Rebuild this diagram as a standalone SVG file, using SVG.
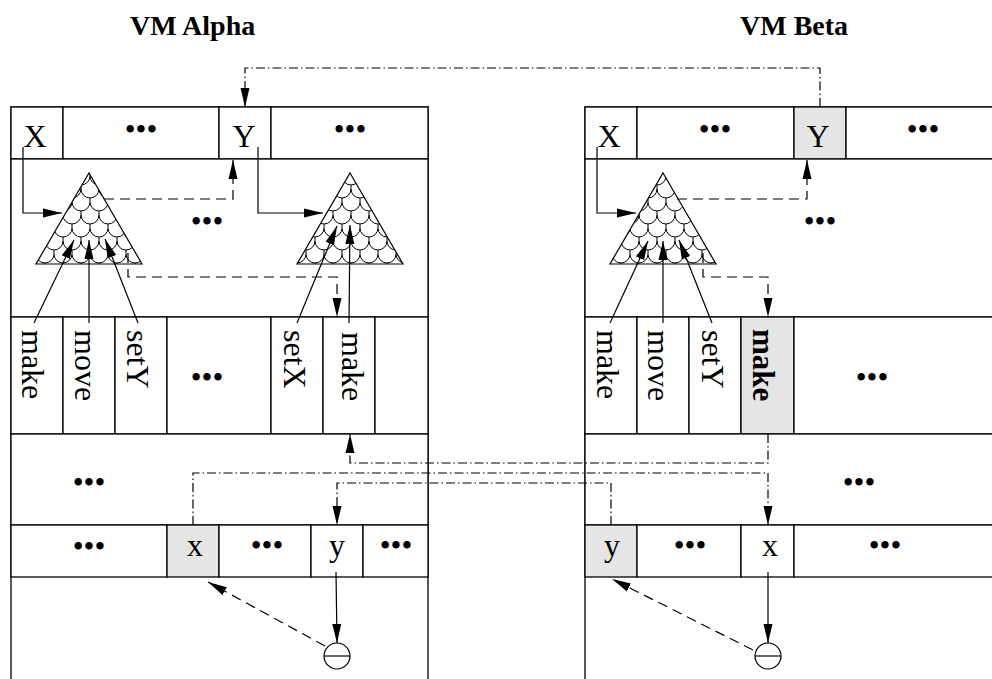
<svg xmlns="http://www.w3.org/2000/svg" width="992" height="679" viewBox="0 0 992 679">
<style>
.c{fill:#fff;stroke:#000;stroke-width:1.3}
.s{fill:#e5e5e5;stroke:#000;stroke-width:1.3}
.t{font-family:"Liberation Serif","Times New Roman",serif;font-size:32px;fill:#000}
.tb{font-family:"Liberation Serif","Times New Roman",serif;font-size:31px;font-weight:bold;fill:#000}
.d{font-family:"Liberation Serif","Times New Roman",serif;font-size:31px;fill:#000;text-anchor:middle}
.m{text-anchor:middle}
.title{font-family:"Liberation Serif","Times New Roman",serif;font-size:28px;font-weight:bold;fill:#000}
.ln{fill:none;stroke:#000;stroke-width:1.2}
.da{stroke-dasharray:10 6}
.dd{stroke-dasharray:9 3 1.5 3}
.tri{fill:url(#scales);stroke:#000;stroke-width:1.2}
</style>
<defs>
<marker id="ah" markerUnits="userSpaceOnUse" markerWidth="20" markerHeight="10" refX="19" refY="5" orient="auto" viewBox="0 0 20 10">
<path d="M0,0.5 L19,5 L0,9.5 z" fill="#000"/>
</marker>
<pattern id="scales" patternUnits="userSpaceOnUse" width="18" height="26" x="0" y="176">
<rect width="18" height="26" fill="#fff"/>
<path d="M0,0 A9,9 0 0 0 18,0 M9,9 V13 M-9,13 A9,9 0 0 0 9,13 M9,13 A9,9 0 0 0 27,13 M0,22 V26 M18,22 V26" fill="none" stroke="#000" stroke-width="1"/>
</pattern>
</defs>

<text class="title" x="130" y="35">VM Alpha</text>
<text class="title" x="740" y="35">VM Beta</text>

<!-- VM Alpha -->
<g id="alpha">
<g id="a-frame"><rect class="c" x="11" y="107" width="417" height="590"/></g>
<g id="a-X"><rect class="c" x="11" y="107" width="52" height="52"/><text class="t m" x="35" y="147">X</text></g>
<g id="a-r1d1"><rect class="c" x="63" y="107" width="156" height="52"/><text class="d" x="141" y="140">•••</text></g>
<g id="a-Y"><rect class="c" x="219" y="107" width="52" height="52"/><text class="t m" x="244" y="147">Y</text></g>
<g id="a-r1d2"><rect class="c" x="271" y="107" width="157" height="52"/><text class="d" x="350" y="140">•••</text></g>
<g id="a-r2"><rect class="c" x="11" y="159" width="417" height="158"/><text class="d" x="207" y="232">•••</text></g>
<g id="a-tri1"><path class="tri" d="M89,173 L142,264 L36,264 Z"/></g>
<g id="a-tri2"><path class="tri" d="M350,173 L403,264 L297,264 Z"/></g>
<g id="a-make"><rect class="c" x="11" y="317" width="52" height="117"/><text class="t" transform="translate(22,330) rotate(90)">make</text></g>
<g id="a-move"><rect class="c" x="63" y="317" width="52" height="117"/><text class="t" transform="translate(75,330) rotate(90)">move</text></g>
<g id="a-setY"><rect class="c" x="115" y="317" width="52" height="117"/><text class="t" transform="translate(127,330) rotate(90)">setY</text></g>
<g id="a-r3d"><rect class="c" x="167" y="317" width="104" height="117"/><text class="d" x="207" y="388">•••</text></g>
<g id="a-setX"><rect class="c" x="271" y="317" width="52" height="117"/><text class="t" transform="translate(284,330) rotate(90)">setX</text></g>
<g id="a-make2"><rect class="c" x="323" y="317" width="52" height="117"/><text class="t" transform="translate(342,332) rotate(90)">make</text></g>
<g id="a-r3e"><rect class="c" x="375" y="317" width="53" height="117"/></g>
<g id="a-r4"><rect class="c" x="11" y="434" width="417" height="91"/><text class="d" x="89" y="493">•••</text></g>
<g id="a-r5d1"><rect class="c" x="11" y="525" width="156" height="52"/><text class="d" x="89" y="557">•••</text></g>
<g id="a-x"><rect class="s" x="167" y="525" width="52" height="52"/><text class="t m" x="195" y="556">x</text></g>
<g id="a-r5d2"><rect class="c" x="219" y="525" width="92" height="52"/><text class="d" x="267" y="556">•••</text></g>
<g id="a-y"><rect class="c" x="311" y="525" width="52" height="52"/><text class="t m" x="337" y="556">y</text></g>
<g id="a-r5d3"><rect class="c" x="363" y="525" width="65" height="52"/><text class="d" x="396" y="556">•••</text></g>
<g id="a-circle"><circle cx="337" cy="656" r="13" fill="#fff" stroke="#000" stroke-width="1.2"/><path d="M324,656 H350" stroke="#000" stroke-width="1.2"/></g>
</g>

<!-- VM Beta -->
<g id="beta">
<g id="b-frame"><rect class="c" x="585" y="107" width="420" height="590"/></g>
<g id="b-X"><rect class="c" x="585" y="107" width="52" height="52"/><text class="t m" x="609" y="147">X</text></g>
<g id="b-r1d1"><rect class="c" x="637" y="107" width="157" height="52"/><text class="d" x="715" y="140">•••</text></g>
<g id="b-Y"><rect class="s" x="794" y="107" width="52" height="52"/><text class="t m" x="818" y="147">Y</text></g>
<g id="b-r1d2"><rect class="c" x="846" y="107" width="160" height="52"/><text class="d" x="923" y="140">•••</text></g>
<g id="b-r2"><rect class="c" x="585" y="159" width="420" height="158"/><text class="d" x="820" y="232">•••</text></g>
<g id="b-tri"><path class="tri" d="M663,173 L716,264 L610,264 Z"/></g>
<g id="b-make"><rect class="c" x="585" y="317" width="52" height="117"/><text class="t" transform="translate(597,330) rotate(90)">make</text></g>
<g id="b-move"><rect class="c" x="637" y="317" width="52" height="117"/><text class="t" transform="translate(648,330) rotate(90)">move</text></g>
<g id="b-setY"><rect class="c" x="689" y="317" width="52" height="117"/><text class="t" transform="translate(702,330) rotate(90)">setY</text></g>
<g id="b-make2"><rect class="s" x="741" y="317" width="53" height="117"/><text class="tb" transform="translate(753,329) rotate(90)">make</text></g>
<g id="b-r3d"><rect class="c" x="794" y="317" width="212" height="117"/><text class="d" x="872" y="388">•••</text></g>
<g id="b-r4"><rect class="c" x="585" y="434" width="420" height="91"/><text class="d" x="859" y="493">•••</text></g>
<g id="b-y"><rect class="s" x="585" y="525" width="52" height="52"/><text class="t m" x="612" y="556">y</text></g>
<g id="b-r5d1"><rect class="c" x="637" y="525" width="104" height="52"/><text class="d" x="690" y="556">•••</text></g>
<g id="b-x"><rect class="c" x="741" y="525" width="53" height="52"/><text class="t m" x="770" y="556">x</text></g>
<g id="b-r5d2"><rect class="c" x="794" y="525" width="212" height="52"/><text class="d" x="885" y="556">•••</text></g>
<g id="b-circle"><circle cx="768" cy="656" r="13" fill="#fff" stroke="#000" stroke-width="1.2"/><path d="M755,656 H781" stroke="#000" stroke-width="1.2"/></g>
</g>

<g id="connectors">
<path class="ln dd" d="M820,107 V68 H245 V107" marker-end="url(#ah)"/>
<path class="ln" d="M23,147 V213 H62" marker-end="url(#ah)"/>
<path class="ln" d="M258,147 V213 H323" marker-end="url(#ah)"/>
<path class="ln da" d="M104,199 H233 V160" marker-end="url(#ah)"/>
<path class="ln da" d="M128,253 V277 H337 V317" marker-end="url(#ah)"/>
<path class="ln" d="M34,323 L74,240" marker-end="url(#ah)"/>
<path class="ln" d="M89,323 V240" marker-end="url(#ah)"/>
<path class="ln" d="M138,323 L105,239" marker-end="url(#ah)"/>
<path class="ln" d="M297,323 L337,226" marker-end="url(#ah)"/>
<path class="ln" d="M349,323 L350,225" marker-end="url(#ah)"/>
<path class="ln" d="M597,147 V213 H636" marker-end="url(#ah)"/>
<path class="ln da" d="M677,199 H807 V160" marker-end="url(#ah)"/>
<path class="ln da" d="M703,253 V277 H768 V317" marker-end="url(#ah)"/>
<path class="ln" d="M610,323 L648,241" marker-end="url(#ah)"/>
<path class="ln" d="M663,323 V241" marker-end="url(#ah)"/>
<path class="ln" d="M712,323 L679,240" marker-end="url(#ah)"/>
<path class="ln dd" d="M768,434 V463 H350 V434" marker-end="url(#ah)"/>
<path class="ln dd" d="M193,525 V473 H768 V525" marker-end="url(#ah)"/>
<path class="ln dd" d="M611,525 V483 H337 V525" marker-end="url(#ah)"/>
<path class="ln" d="M336,572 L337,643" marker-end="url(#ah)"/>
<path class="ln da" d="M325,646 L208,582" marker-end="url(#ah)"/>
<path class="ln" d="M768,572 V643" marker-end="url(#ah)"/>
<path class="ln da" d="M753,650 L612,579" marker-end="url(#ah)"/>
</g>
</svg>
